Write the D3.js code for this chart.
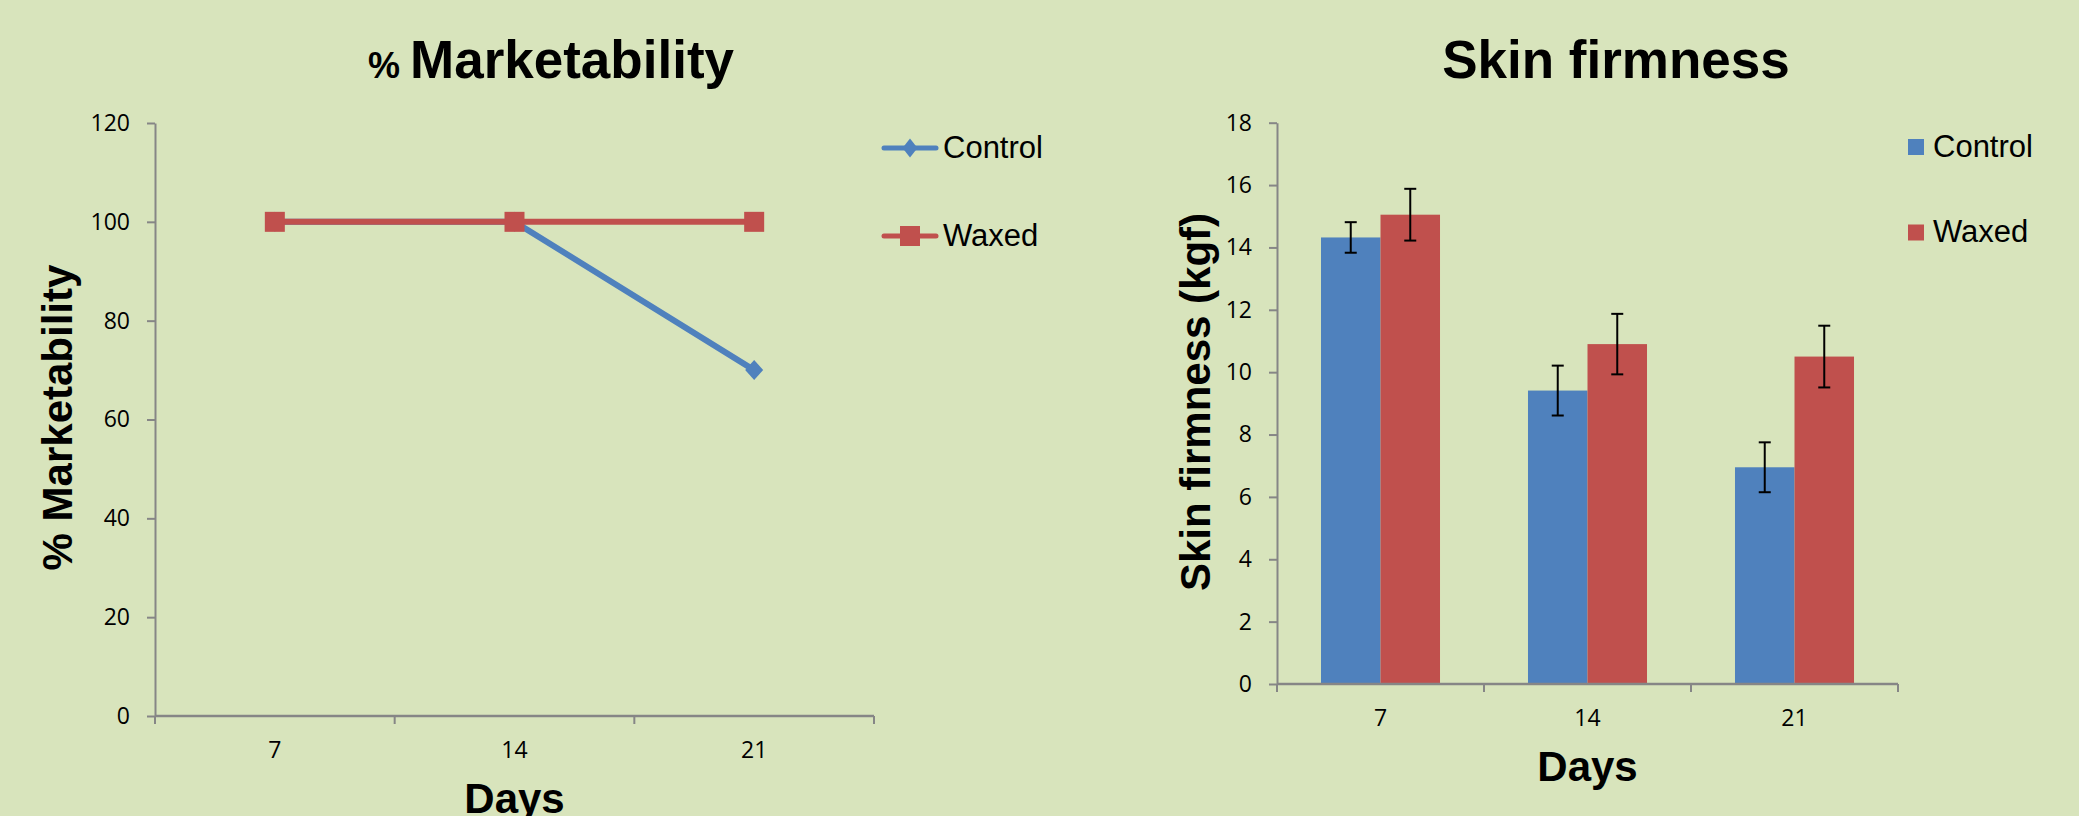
<!DOCTYPE html>
<html>
<head>
<meta charset="utf-8">
<script src="https://cdn.jsdelivr.net/npm/d3@7"></script>
<style>
  html, body { margin: 0; padding: 0; background: #D8E4BC; }
  svg { display: block; }
</style>
</head>
<body>
<svg id="chart" width="2079" height="816"></svg>
<script>
// ---------- DATA ----------
const days = ["7", "14", "21"];
const seriesNames = ["Control", "Waxed"];
const marketControl = [100, 100, 70];
const marketWaxed = [100, 100, 100];
const marketTicks = [0, 20, 40, 60, 80, 100, 120];
const firmControl = [14.32, 9.41, 6.95];
const firmWaxed = [15.05, 10.90, 10.50];
const firmControlErr = [0.49, 0.80, 0.80];
const firmWaxedErr = [0.83, 0.97, 0.99];
const firmTicks = [0, 2, 4, 6, 8, 10, 12, 14, 16, 18];

const colors = { Control: "#4F81BD", Waxed: "#C0504D" };
const axisColor = "#868686";
const tickFont = "'Open Sans', 'Noto Sans', sans-serif";
const arial = "'Liberation Sans', Arial, sans-serif";

const svg = d3.select("#chart");
svg.append("rect").attr("width", 2079).attr("height", 816).attr("fill", "#D8E4BC");

function styleAxis(g) {
  g.selectAll("path.domain").attr("stroke", axisColor).attr("stroke-width", 2);
  g.selectAll(".tick line").attr("stroke", axisColor).attr("stroke-width", 2);
  g.selectAll(".tick text").attr("font-family", tickFont).attr("font-size", 23).attr("fill", "#000");
}

function categoryAxis(x, yPos, x0, x1) {
  // labels
  const g = svg.append("g").attr("transform", `translate(0,${yPos})`)
    .call(d3.axisBottom(x).tickSize(0).tickPadding(26).tickSizeOuter(0));
  g.select("path.domain").remove();
  styleAxis(g);
  // axis line + boundary ticks
  svg.append("line").attr("x1", x0).attr("x2", x1).attr("y1", yPos).attr("y2", yPos)
    .attr("stroke", axisColor).attr("stroke-width", 2.5);
  const bounds = x.domain().map(d => x(d) - x.step() * x.paddingInner() / 2).concat([x1]);
  bounds[0] = x0;
  svg.append("g").selectAll("line").data(bounds).join("line")
    .attr("x1", d => d).attr("x2", d => d).attr("y1", yPos).attr("y2", yPos + 8)
    .attr("stroke", axisColor).attr("stroke-width", 2);
}

// ================= LEFT: % Marketability =================
{
  const L = 155, R = 874, T = 123, B = 716;
  const x = d3.scaleBand().domain(days).range([L, R]).padding(0);
  const y = d3.scaleLinear().domain([0, 120]).range([B, T]);
  const cx = d => x(d) + x.bandwidth() / 2;

  const gy = svg.append("g").attr("transform", `translate(${L},0)`)
    .call(d3.axisLeft(y).tickValues(marketTicks).tickSize(8).tickPadding(17).tickSizeOuter(0));
  styleAxis(gy);
  categoryAxis(x, B, L, R);

  const line = d3.line().x((d, i) => cx(days[i])).y(d => y(d));
  const seriesData = [
    { name: "Control", values: marketControl },
    { name: "Waxed", values: marketWaxed }
  ];
  seriesData.forEach(s => {
    svg.append("path").datum(s.values).attr("d", line)
      .attr("fill", "none").attr("stroke", colors[s.name]).attr("stroke-width", 6)
      .attr("stroke-linejoin", "round").attr("stroke-linecap", "round");
  });
  // markers
  const diamond = (px, py, w, h) => `M${px},${py - h}L${px + w},${py}L${px},${py + h}L${px - w},${py}Z`;
  svg.append("g").selectAll("path").data(marketControl).join("path")
    .attr("d", (d, i) => diamond(cx(days[i]), y(d), 9, 10)).attr("fill", colors.Control);
  svg.append("g").selectAll("rect").data(marketWaxed).join("rect")
    .attr("x", (d, i) => cx(days[i]) - 10).attr("y", d => y(d) - 10)
    .attr("width", 20).attr("height", 20).attr("fill", colors.Waxed);

  // legend
  const leg = [{ name: "Control", cy: 148, base: 158 }, { name: "Waxed", cy: 236, base: 246 }];
  leg.forEach(l => {
    svg.append("line").attr("x1", 884).attr("x2", 936).attr("y1", l.cy).attr("y2", l.cy)
      .attr("stroke", colors[l.name]).attr("stroke-width", 5).attr("stroke-linecap", "round");
    if (l.name === "Control") {
      svg.append("path").attr("d", diamond(910, l.cy, 7.5, 9.5)).attr("fill", colors.Control);
    } else {
      svg.append("rect").attr("x", 900).attr("y", l.cy - 10).attr("width", 20).attr("height", 20).attr("fill", colors.Waxed);
    }
    svg.append("text").attr("x", 943).attr("y", l.base).text(l.name)
      .attr("font-family", arial).attr("font-size", 31).attr("fill", "#000");
  });

  // titles
  const t = svg.append("text").attr("x", 551).attr("y", 78).attr("text-anchor", "middle")
    .attr("font-family", arial).attr("font-weight", "bold").attr("fill", "#000");
  t.append("tspan").attr("font-size", 36).text("% ");
  t.append("tspan").attr("font-size", 53).text("Marketability");

  svg.append("text").attr("transform", "translate(71.5,417.5) rotate(-90)")
    .attr("text-anchor", "middle").attr("font-family", arial).attr("font-weight", "bold")
    .attr("font-size", 42).attr("fill", "#000").text("% Marketability");

  svg.append("text").attr("x", (L + R) / 2).attr("y", 813).attr("text-anchor", "middle")
    .attr("font-family", arial).attr("font-weight", "bold").attr("font-size", 42)
    .attr("fill", "#000").text("Days");
}

// ================= RIGHT: Skin firmness =================
{
  const L = 1277, R = 1898, T = 122.7, B = 684;
  const x0 = d3.scaleBand().domain(days).range([L, R]).paddingInner(0.425).paddingOuter(0.2125);
  const x1 = d3.scaleBand().domain(seriesNames).range([0, x0.bandwidth()]).padding(0);
  const y = d3.scaleLinear().domain([0, 18]).range([B, T]);

  const data = [];
  days.forEach((d, i) => {
    data.push({ day: d, name: "Control", v: firmControl[i], e: firmControlErr[i] });
    data.push({ day: d, name: "Waxed", v: firmWaxed[i], e: firmWaxedErr[i] });
  });

  svg.append("g").selectAll("rect").data(data).join("rect")
    .attr("x", d => x0(d.day) + x1(d.name)).attr("width", x1.bandwidth())
    .attr("y", d => y(d.v)).attr("height", d => B - y(d.v))
    .attr("fill", d => colors[d.name]);

  const gy = svg.append("g").attr("transform", `translate(${L},0)`)
    .call(d3.axisLeft(y).tickValues(firmTicks).tickSize(8).tickPadding(17).tickSizeOuter(0));
  styleAxis(gy);

  // category labels
  const gx = svg.append("g").attr("transform", `translate(0,${B})`)
    .call(d3.axisBottom(x0).tickSize(0).tickPadding(26));
  gx.select("path.domain").remove();
  styleAxis(gx);
  svg.append("line").attr("x1", L).attr("x2", R).attr("y1", B).attr("y2", B)
    .attr("stroke", axisColor).attr("stroke-width", 2.5);
  const bounds = [L].concat(days.slice(1).map(d => x0(d) - x0.step() * x0.paddingInner() / 2)).concat([R]);
  svg.append("g").selectAll("line").data(bounds).join("line")
    .attr("x1", d => d).attr("x2", d => d).attr("y1", B).attr("y2", B + 8)
    .attr("stroke", axisColor).attr("stroke-width", 2);

  // error bars
  const eb = svg.append("g").attr("stroke", "#000").attr("stroke-width", 2);
  data.forEach(d => {
    const cx = x0(d.day) + x1(d.name) + x1.bandwidth() / 2;
    eb.append("line").attr("x1", cx).attr("x2", cx).attr("y1", y(d.v + d.e)).attr("y2", y(d.v - d.e));
    eb.append("line").attr("x1", cx - 6).attr("x2", cx + 6).attr("y1", y(d.v + d.e)).attr("y2", y(d.v + d.e));
    eb.append("line").attr("x1", cx - 6).attr("x2", cx + 6).attr("y1", y(d.v - d.e)).attr("y2", y(d.v - d.e));
  });

  // legend
  const leg = [{ name: "Control", top: 139, base: 157 }, { name: "Waxed", top: 224.5, base: 242 }];
  leg.forEach(l => {
    svg.append("rect").attr("x", 1908).attr("y", l.top).attr("width", 16).attr("height", 16).attr("fill", colors[l.name]);
    svg.append("text").attr("x", 1933).attr("y", l.base).text(l.name)
      .attr("font-family", arial).attr("font-size", 31).attr("fill", "#000");
  });

  svg.append("text").attr("x", 1616).attr("y", 78).attr("text-anchor", "middle")
    .attr("font-family", arial).attr("font-weight", "bold").attr("font-size", 53)
    .attr("fill", "#000").text("Skin firmness");

  svg.append("text").attr("transform", "translate(1210,402) rotate(-90)")
    .attr("text-anchor", "middle").attr("font-family", arial).attr("font-weight", "bold")
    .attr("font-size", 42).attr("fill", "#000").text("Skin firmness (kgf)");

  svg.append("text").attr("x", (L + R) / 2).attr("y", 781).attr("text-anchor", "middle")
    .attr("font-family", arial).attr("font-weight", "bold").attr("font-size", 42)
    .attr("fill", "#000").text("Days");
}
</script>
</body>
</html>
